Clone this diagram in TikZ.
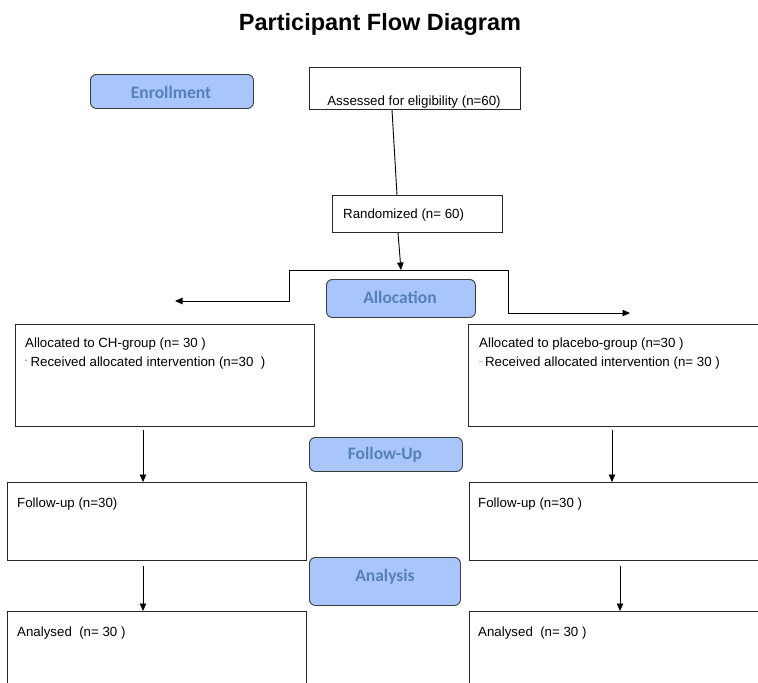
\documentclass[tikz,border=0pt]{standalone}
\usepackage{fontspec}
\setmainfont{Liberation Sans}
\newfontfamily\labelfont{Carlito}
\usetikzlibrary{arrows.meta,calc}

\definecolor{stagefill}{RGB}{168,198,250}
\definecolor{stagetext}{RGB}{86,128,186}
\definecolor{stageedge}{RGB}{60,60,60}
\definecolor{boxedge}{RGB}{40,40,40}

\tikzset{
  every picture/.style={x=1pt,y=-1pt},
  stage/.style={draw=stageedge, line width=0.9pt, fill=stagefill, rounded corners=6pt,
    inner sep=0pt, anchor=north west},
  stagelabel/.style={text=stagetext, inner sep=0pt,
    font=\labelfont\bfseries\fontsize{17.5}{20}\selectfont},
  flowbox/.style={draw=boxedge, line width=0.9pt, inner sep=0pt, anchor=north west},
  txt/.style={inner sep=0pt, anchor=base west, font=\fontsize{13.3}{16}\selectfont},
  link/.style={draw=black, line width=0.9pt},
  arrowlink/.style={link, -{Triangle[length=7.5pt,width=6.5pt]}},
}
\newcommand{\listmark}[1]{\raisebox{0.5ex}{\fontsize{7}{7}\selectfont #1}}

\begin{document}
\begin{tikzpicture}
\clip (0,0) rectangle (758,683);
\fill[white] (0,0) rectangle (758,683);

% title
\node[inner sep=0pt, anchor=base, font=\bfseries\fontsize{23.5}{28}\selectfont] (title) at (380,30) {Participant Flow Diagram};

% stage labels
\node[stage, minimum width=163pt, minimum height=34pt] (enroll) at (90,74) {};
\node[stagelabel] (enrolltxt) at (171,92) {Enrollment};

\node[stage, minimum width=149pt, minimum height=38pt] (alloc) at (326,279) {};
\node[stagelabel] (alloctxt) at (400,297) {Allocation};

\node[stage, minimum width=153pt, minimum height=34pt] (follow) at (309,437) {};
\node[stagelabel] (followtxt) at (385,455) {Follow-Up};

\node[stage, minimum width=151pt, minimum height=48pt] (analysis) at (309,557) {};
\node[stagelabel] (analysistxt) at (385,577) {Analysis};

% enrolment boxes
\node[flowbox, minimum width=211pt, minimum height=42pt] (assess) at (309,67) {};
\node[txt, anchor=base] (assesstxt) at (414,105) {Assessed for eligibility (n=60)};

\node[flowbox, minimum width=170pt, minimum height=37pt] (random) at (332,195) {};
\node[txt] (randomtxt) at (343,218) {Randomized (n= 60)};

% allocation boxes
\node[flowbox, minimum width=299pt, minimum height=102pt] (allocL) at (15,324) {};
\node[txt] (allocLa) at (25,347) {Allocated to CH-group (n= 30 )};
\node[txt] (allocLb) at (25,366) {\listmark{-}\hspace{3pt}Received allocated intervention (n=30~~)};

\node[flowbox, minimum width=320pt, minimum height=102pt] (allocR) at (468,324) {};
\node[txt] (allocRa) at (479,347) {Allocated to placebo-group (n=30 )};
\node[txt] (allocRb) at (479,366) {\listmark{..}\hspace{2pt}Received allocated intervention (n= 30 )};

% follow-up boxes
\node[flowbox, minimum width=299pt, minimum height=78pt] (followL) at (7,482) {};
\node[txt] (followLtxt) at (17,507) {Follow-up (n=30)};

\node[flowbox, minimum width=320pt, minimum height=78pt] (followR) at (469,482) {};
\node[txt] (followRtxt) at (478,507) {Follow-up (n=30 )};

% analysis boxes
\node[flowbox, minimum width=299pt, minimum height=100pt] (analysedL) at (7,611) {};
\node[txt] (analysedLtxt) at (17,636) {Analysed~~(n= 30 )};

\node[flowbox, minimum width=320pt, minimum height=100pt] (analysedR) at (469,611) {};
\node[txt] (analysedRtxt) at (478,636) {Analysed~~(n= 30 )};

% connector points
\coordinate (a0) at ($(assess.south west)+(83,0)$);
\coordinate (r0) at ($(random.north west)+(65,0)$);
\coordinate (r1) at ($(random.south west)+(66,0)$);
\coordinate (split) at (401,270);
\coordinate (splitL) at (289,270);
\coordinate (splitR) at (508,270);
\coordinate (bendL) at (289,301);
\coordinate (bendR) at (508,313);
\coordinate (endL) at (175,301);
\coordinate (endR) at (630,313);
\coordinate (fl0) at (143,430);
\coordinate (fr0) at (612,430);
\coordinate (al0) at (143,566);
\coordinate (ar0) at (620,566);

% connectors
\draw[link] (a0) -- (r0);
\draw[arrowlink] (r1) -- (split);
\draw[link] (splitL) -- (splitR);
\draw[arrowlink] (splitL) -- (bendL) -- (endL);
\draw[arrowlink] (splitR) -- (bendR) -- (endR);
\draw[arrowlink] (fl0) -- (fl0 |- followL.north);
\draw[arrowlink] (fr0) -- (fr0 |- followR.north);
\draw[arrowlink] (al0) -- (al0 |- analysedL.north);
\draw[arrowlink] (ar0) -- (ar0 |- analysedR.north);
\end{tikzpicture}
\end{document}
